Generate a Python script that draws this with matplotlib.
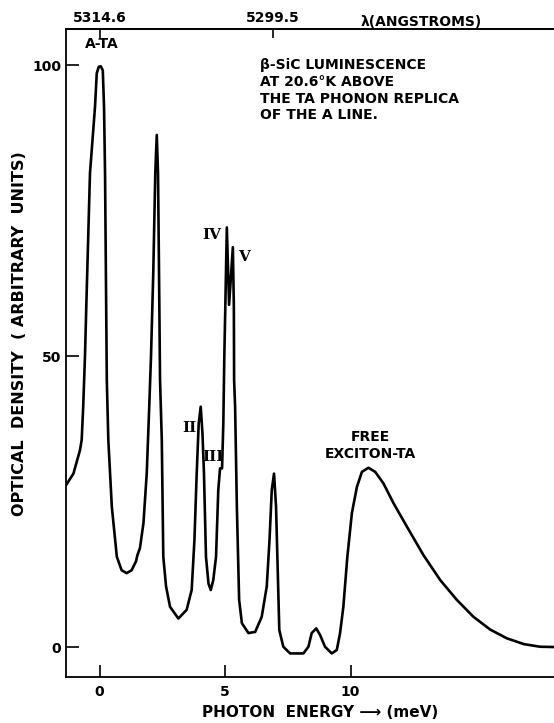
import matplotlib
matplotlib.use("Agg")
import matplotlib.pyplot as plt

# photon energy (meV) and optical density
energy = [-1.335, -1.04, -0.78, -0.71, -0.65, -0.58, -0.52, -0.38, -0.18, -0.11,
          -0.03, 0.05, 0.13, 0.18, 0.22, 0.29, 0.35, 0.49, 0.69, 0.88,
          1.08, 1.28, 1.45, 1.51, 1.61, 1.75, 1.88, 1.98, 2.05, 2.14,
          2.22, 2.28, 2.33, 2.37, 2.41, 2.48, 2.54, 2.65, 2.81, 3.14,
          3.47, 3.67, 3.78, 3.87, 3.95, 4.03, 4.10, 4.16, 4.24, 4.34,
          4.43, 4.53, 4.64, 4.73, 4.80, 4.88, 4.93, 4.97, 5.01, 5.07,
          5.16, 5.31, 5.35, 5.36, 5.40, 5.47, 5.56, 5.67, 5.93, 6.20,
          6.46, 6.66, 6.77, 6.86, 6.95, 7.03, 7.10, 7.16, 7.32, 7.59,
          8.12, 8.32, 8.45, 8.63, 8.78, 8.98, 9.25, 9.45, 9.58, 9.71,
          9.87, 10.05, 10.25, 10.45, 10.71, 10.98, 11.31, 11.71, 12.24, 12.90,
          13.57, 14.23, 14.89, 15.56, 16.22, 16.90, 17.55, 18.1]
density = [27.8, 29.8, 33.8, 35.6, 41.3, 49.9, 59.6, 81.4, 92.8, 98.6,
           99.7, 99.8, 99.1, 92.8, 81.4, 45.9, 35.6, 24.1, 15.5, 13.2,
           12.7, 13.2, 14.7, 15.8, 17.0, 21.3, 29.8, 41.3, 49.9, 64.2,
           81.4, 88.0, 81.4, 64.2, 45.9, 35.6, 15.5, 10.4, 6.9, 4.9,
           6.4, 9.8, 18.4, 29.8, 38.4, 41.3, 36.7, 29.8, 15.5, 10.9,
           9.8, 11.5, 15.5, 27.0, 30.7, 30.7, 38.4, 49.9, 58.5, 72.1,
           58.8, 68.7, 58.5, 45.9, 41.3, 24.1, 8.1, 4.1, 2.4, 2.6,
           5.2, 10.4, 18.4, 27.0, 29.8, 24.1, 12.7, 2.9, 0.05, -1.1,
           -1.1, 0.05, 2.4, 3.2, 2.1, 0.05, -1.1, -0.5, 2.4, 6.9,
           15.5, 23.0, 27.5, 30.1, 30.8, 30.1, 28.1, 24.7, 20.7, 15.8,
           11.5, 8.1, 5.2, 3.0, 1.5, 0.5, 0.05, 0.0]

x_ticks = [0, 5, 10]
y_ticks = [0, 50, 100]
wl_tick_energy = [0, 6.9]
wl_tick_labels = ["5314.6", "5299.5"]

plt.rcParams['font.family'] = ['DejaVu Sans']
plt.rcParams['font.weight'] = 'bold'
plt.rcParams['axes.labelweight'] = 'bold'

fig = plt.figure(figsize=(5.54, 7.23), dpi=100)
ax = fig.add_axes([66 / 554, 1 - 677 / 723, 1 - 66 / 554, (677 - 29) / 723])
ax.plot(energy, density, color='black', lw=1.9, solid_joinstyle='round')

ax.set_xlim(-1.335, 18.1)
ax.set_ylim(-5.15, 106.2)
ax.spines['right'].set_visible(False)
for s in ['left', 'bottom', 'top']:
    ax.spines[s].set_linewidth(1.3)

ax.set_xticks(x_ticks)
ax.set_yticks(y_ticks)
ax.tick_params(axis='x', direction='in', length=8.5, width=1.2, pad=6, labelsize=10)
ax.tick_params(axis='y', direction='in', length=9.5, width=1.2, pad=3.6, labelsize=10)

top = ax.secondary_xaxis('top')
top.set_xticks(wl_tick_energy, labels=wl_tick_labels)
top.tick_params(direction='in', length=6.5, width=1.2, pad=3, labelsize=10)
top.spines['top'].set_linewidth(1.3)
ax.text(12.8, 1.0, "\u03bb(ANGSTROMS)", transform=ax.get_xaxis_transform(),
        ha='center', va='bottom', fontsize=10)

ax.set_xlabel("PHOTON  ENERGY \u27f6 (meV)", fontsize=11)
ax.xaxis.set_label_coords(0.52, -0.043)
ax.set_ylabel("OPTICAL  DENSITY  ( ARBITRARY  UNITS)", fontsize=11.5)
ax.yaxis.set_label_coords(-0.08, 0.53)

ax.text(0.1, 103.6, "A-TA", ha='center', va='center', fontsize=10)
ax.text(6.4, 101.2, "\u03b2-SiC LUMINESCENCE\nAT 20.6\u00b0K ABOVE\nTHE TA PHONON REPLICA\nOF THE A LINE.",
        ha='left', va='top', fontsize=10, linespacing=1.25)
roman = dict(fontsize=11, fontweight='bold', family='DejaVu Serif', ha='center', va='center')
ax.text(3.57, 37.6, "II", **roman)
ax.text(4.52, 32.6, "III", **roman)
ax.text(4.47, 70.8, "IV", **roman)
ax.text(5.76, 67.0, "V", **roman)
ax.text(10.8, 34.6, "FREE\nEXCITON-TA", ha='center', va='center', fontsize=10,
        linespacing=1.25)

fig.savefig("out.png", dpi=100)
